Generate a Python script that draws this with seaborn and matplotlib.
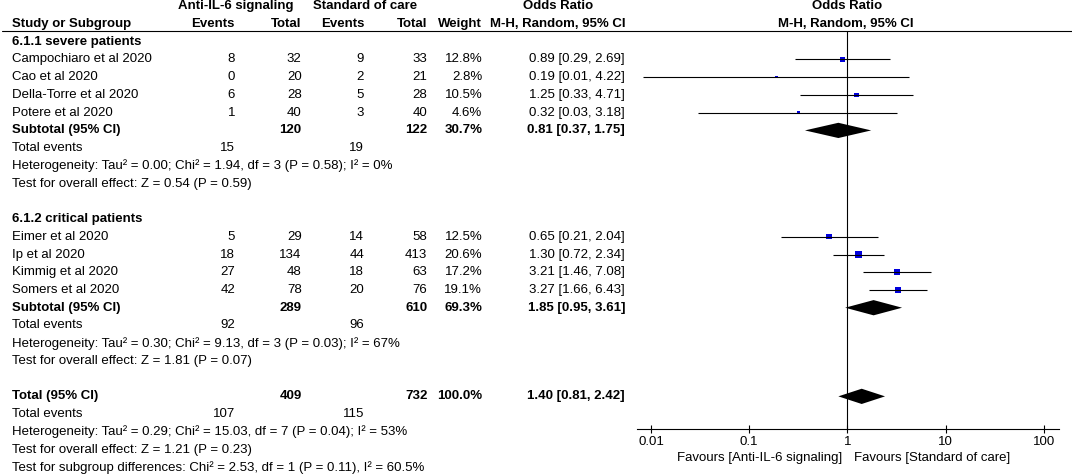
import numpy as np
import pandas as pd
import matplotlib
matplotlib.use("Agg")
import matplotlib.pyplot as plt
import seaborn as sns
from matplotlib.transforms import blended_transform_factory

# Verileri tanımlayın
group_titles = ["6.1.1 severe patients", "6.1.2 critical patients"]
studies = [["Campochiaro et al 2020", "Cao et al 2020", "Della-Torre et al 2020", "Potere et al 2020"],
           ["Eimer et al 2020", "Ip et al 2020", "Kimmig et al 2020", "Somers et al 2020"]]
events_anti = [[8, 0, 6, 1], [5, 18, 27, 42]]
total_anti = [[32, 20, 28, 40], [29, 134, 48, 78]]
events_soc = [[9, 2, 5, 3], [14, 44, 18, 20]]
total_soc = [[33, 21, 28, 40], [58, 413, 63, 76]]
weights = [[12.8, 2.8, 10.5, 4.6], [12.5, 20.6, 17.2, 19.1]]
odds = [[0.89, 0.19, 1.25, 0.32], [0.65, 1.30, 3.21, 3.27]]
ci_low = [[0.29, 0.0082, 0.33, 0.03], [0.21, 0.72, 1.46, 1.66]]
ci_high = [[2.69, 4.22, 4.71, 3.18], [2.04, 2.34, 7.08, 6.43]]

sub_total_anti = [120, 289]
sub_total_soc = [122, 610]
sub_weight = [30.7, 69.3]
sub_events_anti = [15, 92]
sub_events_soc = [19, 96]
sub_or = [0.81, 1.85]
sub_low = [0.37, 0.95]
sub_high = [1.75, 3.61]
sub_het = ["Heterogeneity: Tau² = 0.00; Chi² = 1.94, df = 3 (P = 0.58); I² = 0%",
           "Heterogeneity: Tau² = 0.30; Chi² = 9.13, df = 3 (P = 0.03); I² = 67%"]
sub_effect = ["Test for overall effect: Z = 0.54 (P = 0.59)",
              "Test for overall effect: Z = 1.81 (P = 0.07)"]

tot_anti, tot_soc, tot_weight = 409, 732, 100.0
tot_events_anti, tot_events_soc = 107, 115
tot_or, tot_low, tot_high = 1.40, 0.81, 2.42
tot_notes = ["Heterogeneity: Tau² = 0.29; Chi² = 15.03, df = 7 (P = 0.04); I² = 53%",
             "Test for overall effect: Z = 1.21 (P = 0.23)",
             "Test for subgroup differences: Chi² = 2.53, df = 1 (P = 0.11), I² = 60.5%"]

x_ticks = [0.01, 0.1, 1, 10, 100]
x_tick_labels = ["0.01", "0.1", "1", "10", "100"]

sns.set_theme(style="white")
plt.rcParams['font.family'] = ['Liberation Sans', 'DejaVu Sans']
FS = 9.5
W, H = 1072, 474
R0, DR = 6.3, 17.73          # ilk satırın piksel konumu ve satır aralığı
AX_Y = 429                   # x ekseninin piksel konumu

fig = plt.figure(figsize=(W / 100, H / 100), dpi=100)
ax = fig.add_axes([637 / W, (H - AX_Y) / H, (1059 - 637) / W, AX_Y / H])
ax.set_xscale('log')
ax.set_xlim(0.0072, 143.2)
y_bottom = (AX_Y - R0) / DR
ax.set_ylim(y_bottom, -R0 / DR)
tr = blended_transform_factory(fig.transFigure, ax.transData)
line_row = (31.5 - R0) / DR


def fx(px):
    return px / W


def txt(px, row, s, ha='right', bold=False):
    ax.text(fx(px), row, s, transform=tr, ha=ha, va='center', fontsize=FS,
            fontweight='bold' if bold else 'normal', color='black', clip_on=False)


def ci_str(o, l, h):
    return f"{o:.2f} [{l:.2f}, {h:.2f}]"


def diamond(row, o, l, h):
    ax.fill([l, o, h, o], [row, row - 0.43, row, row + 0.43], color='black', lw=0)


# Başlıklar
txt(236, 0, "Anti-IL-6 signaling", ha='center', bold=True)
txt(365.5, 0, "Standard of care", ha='center', bold=True)
txt(558, 0, "Odds Ratio", ha='center', bold=True)
txt(847, 0, "Odds Ratio", ha='center', bold=True)
txt(12.5, 1, "Study or Subgroup", ha='left', bold=True)
for px, s in zip([235, 301.7, 364, 427.3, 482.3], ["Events", "Total", "Events", "Total", "Weight"]):
    txt(px, 1, s, bold=True)
txt(625, 1, "M-H, Random, 95% CI", bold=True)
txt(846, 1, "M-H, Random, 95% CI", ha='center', bold=True)
ax.plot([fx(2), 1.0], [line_row, line_row], transform=tr, color='black', lw=0.8, clip_on=False)

# Alt gruplar
rows_all, or_all, w_all = [], [], []
row = 2
for g in range(2):
    txt(12.5, row, group_titles[g], ha='left', bold=True)
    row += 1
    for i in range(len(studies[g])):
        txt(12.5, row, studies[g][i], ha='left')
        txt(235, row, str(events_anti[g][i]))
        txt(301.7, row, str(total_anti[g][i]))
        txt(364, row, str(events_soc[g][i]))
        txt(427.3, row, str(total_soc[g][i]))
        txt(482.3, row, f"{weights[g][i]:.1f}%")
        txt(625, row, ci_str(odds[g][i], ci_low[g][i], ci_high[g][i]))
        ax.hlines(row, ci_low[g][i], ci_high[g][i], color='black', lw=0.8)
        rows_all.append(row)
        or_all.append(odds[g][i])
        w_all.append(weights[g][i])
        row += 1
    txt(12.5, row, "Subtotal (95% CI)", ha='left', bold=True)
    txt(301.7, row, str(sub_total_anti[g]), bold=True)
    txt(427.3, row, str(sub_total_soc[g]), bold=True)
    txt(482.3, row, f"{sub_weight[g]:.1f}%", bold=True)
    txt(625, row, ci_str(sub_or[g], sub_low[g], sub_high[g]), bold=True)
    diamond(row, sub_or[g], sub_low[g], sub_high[g])
    row += 1
    txt(12.5, row, "Total events", ha='left')
    txt(235, row, str(sub_events_anti[g]))
    txt(364, row, str(sub_events_soc[g]))
    row += 1
    txt(12.5, row, sub_het[g], ha='left')
    row += 1
    txt(12.5, row, sub_effect[g], ha='left')
    row += 2

# Genel toplam
txt(12.5, row, "Total (95% CI)", ha='left', bold=True)
txt(301.7, row, str(tot_anti), bold=True)
txt(427.3, row, str(tot_soc), bold=True)
txt(482.3, row, f"{tot_weight:.1f}%", bold=True)
txt(625, row, ci_str(tot_or, tot_low, tot_high), bold=True)
diamond(row, tot_or, tot_low, tot_high)
row += 1
txt(12.5, row, "Total events", ha='left')
txt(235, row, str(tot_events_anti))
txt(364, row, str(tot_events_soc))
for note in tot_notes:
    row += 1
    txt(12.5, row, note, ha='left')

# Kareler (alan ağırlıkla orantılı)
df = pd.DataFrame({'or': or_all, 'row': rows_all, 'weight': w_all})
sns.scatterplot(data=df, x='or', y='row', size='weight', marker='s', color='#0000dd',
                sizes=(1.15 * min(w_all), 1.15 * max(w_all)), linewidth=0, legend=False, ax=ax)

ax.vlines(1, line_row, y_bottom, color='black', lw=0.8)

ax.set_xticks(x_ticks)
ax.set_xticklabels(x_tick_labels)
ax.minorticks_off()
ax.tick_params(axis='x', direction='inout', length=6, width=0.8, pad=2, labelsize=FS,
               bottom=True, colors='black')
ax.set_yticks([])
ax.set_xlabel('')
ax.set_ylabel('')
for s in ['top', 'left', 'right']:
    ax.spines[s].set_visible(False)
ax.spines['bottom'].set_color('black')
ax.spines['bottom'].set_linewidth(0.8)
ax.patch.set_alpha(0)

fav_row = (458 - R0) / DR
txt(842.7, fav_row, "Favours [Anti-IL-6 signaling]")
txt(854.3, fav_row, "Favours [Standard of care]", ha='left')

fig.savefig('out.png', dpi=100)
